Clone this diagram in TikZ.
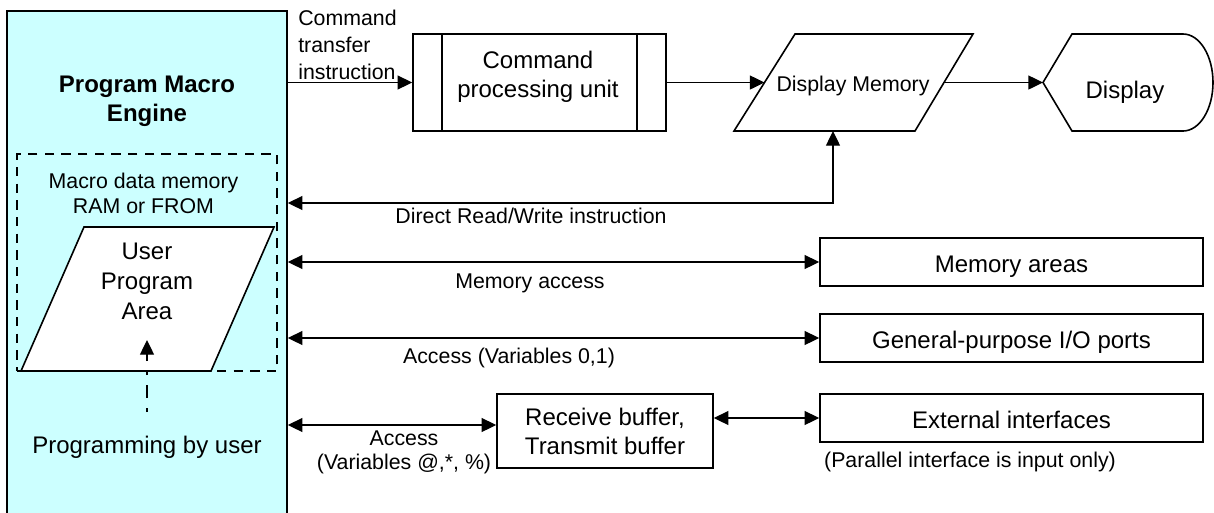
\documentclass[tikz,border=0pt]{standalone}
\usepackage{fontspec}
\setmainfont{Liberation Sans}
\usetikzlibrary{arrows.meta,fit}

\tikzset{
  vtip/.tip={Triangle[length=11pt,width=10.5pt]},
  blk/.style={draw, line width=1.2pt, inner sep=0pt},
  sidebox/.style={blk, minimum width=287.25pt, minimum height=36pt, font=\fontsize{18}{22}\selectfont, text height=16pt, text depth=0pt},
  lbl/.style={inner sep=0pt, font=\fontsize{16}{20}\selectfont},
  big/.style={inner sep=0pt, font=\fontsize{18}{22.5}\selectfont},
  onearrow/.style={line width=1pt, -vtip},
  twoarrow/.style={line width=1pt, vtip-vtip},
}

\begin{document}
\begin{tikzpicture}[x=0.75pt,y=0.75pt,yscale=-1,xscale=1]
\useasboundingbox (0,0) rectangle (1214,512);

%Shape: Rectangle (engine, runs on past the bottom)
\node [blk, fill={rgb, 255:red, 204; green, 255; blue, 255 }, fit={(7,11) (287,540)}] (engine) {};
% Text Node
\node [big, font=\fontsize{18}{21.75}\selectfont\bfseries, align=center] (title) at (147,101.4) {Program Macro\\Engine};

%Shape: Rectangle dashed
\node [draw, line width=1.1pt, dash pattern=on 7pt off 5.5pt, inner sep=0pt, fit={(17,154) (277,371)}] (macromem) {};
% Text Node
\node [lbl, font=\fontsize{16}{19.3}\selectfont, align=center] (macrotxt) at (143.5,193.3) {Macro data memory\\RAM or FROM};
%Shape: Parallelogram
\draw [line width=1.2pt, fill=white] (84,227) -- (274,227) -- (211,371) -- (21,371) -- cycle;
% Text Node
\node [big, align=center] (userarea) at (147,281.4) {User\\Program\\Area};
\coordinate (userin) at (147,340);
% Text Node
\node [big, anchor=base] (progtxt) at (147,453) {Programming by user};
\draw [line width=1pt, dash pattern=on 3pt off 7.5pt on 9.75pt off 7.5pt, -vtip, shorten <=17.5pt] (progtxt) -- (userin);

%Shape: Predefined process
\node [blk, minimum width=189.75pt, minimum height=72.75pt] (cpu) at (539.5,82.5) {};
\draw [line width=1.2pt] ([xshift=22.5pt]cpu.north west) -- ([xshift=22.5pt]cpu.south west);
\draw [line width=1.2pt] ([xshift=-22.5pt]cpu.north east) -- ([xshift=-22.5pt]cpu.south east);
% Text Node
\node [big, font=\fontsize{18}{22}\selectfont, align=center] (cputxt) at (538,76.7) {Command\\processing unit};
% Text Node
\node [lbl, font=\fontsize{16}{20.6}\selectfont, align=left, anchor=north west] (cmdlbl) at (298,9.3) {Command\\transfer\\instruction};

%Shape: Parallelogram (display memory)
\draw [line width=1.2pt] (795,34) -- (973,34) -- (915,131) -- (734,131) -- cycle;
\node [lbl, anchor=base] (dmem) at (853,91) {Display Memory};
\coordinate (dmemL) at (764.5,82.5);
\coordinate (dmemR) at (944,82.5);
\coordinate (dmemB) at (833,131);

%Shape: Display
\draw [line width=1.2pt] (1043,82.5) -- (1072,34) -- (1183,34) arc [start angle=-90, end angle=90, x radius=30, y radius=48.5] -- (1072,131) -- cycle;
\node [big, anchor=base] (disp) at (1125,98) {Display};
\coordinate (dispL) at (1043,82.5);

%Straight Lines
\draw [onearrow] (engine.east |- cpu.west) -- (cpu.west);
\draw [onearrow] (cpu.east) -- (dmemL);
\draw [onearrow] (dmemR) -- (dispL);
\coordinate (rwC) at (833,203);
\draw [twoarrow] (engine.east |- rwC) -- (rwC) -- (dmemB);
\node [lbl, anchor=base] (rwlbl) at (531,223) {Direct Read/Write instruction};

%Shape: Rectangles on the right
\node [sidebox] (memarea) at (1011.5,262) {Memory areas};
\node [sidebox] (gpio) at (1011.5,338) {General-purpose I/O ports};
\node [sidebox] (extif) at (1011.5,418) {External interfaces};
\node [blk, big, font=\fontsize{18}{21.75}\selectfont, align=center, minimum width=162pt, minimum height=55.5pt] (rxbuf) at (605,431) {Receive buffer,\\Transmit buffer};

% Text Node
\node [lbl, anchor=base] (memlbl) at (530,288) {Memory access};
\node [lbl, anchor=base] (gpiolbl) at (509,363) {Access (Variables 0,1)};
\node [lbl, font=\fontsize{16}{18}\selectfont, align=center] (rxlbl) at (404,452.5) {Access\\(Variables @,*, \%)};
\node [lbl, anchor=base] (extlbl) at (970,467) {(Parallel interface is input only)};

%Straight Lines
\draw [twoarrow] (engine.east |- memarea.west) -- (memarea.west);
\draw [twoarrow] (engine.east |- gpio.west) -- (gpio.west);
\coordinate (rxin) at ([yshift=-4.5pt]rxbuf.west);
\draw [twoarrow] (engine.east |- rxin) -- (rxin);
\draw [twoarrow] (rxbuf.east |- extif.west) -- (extif.west);
\end{tikzpicture}
\end{document}
